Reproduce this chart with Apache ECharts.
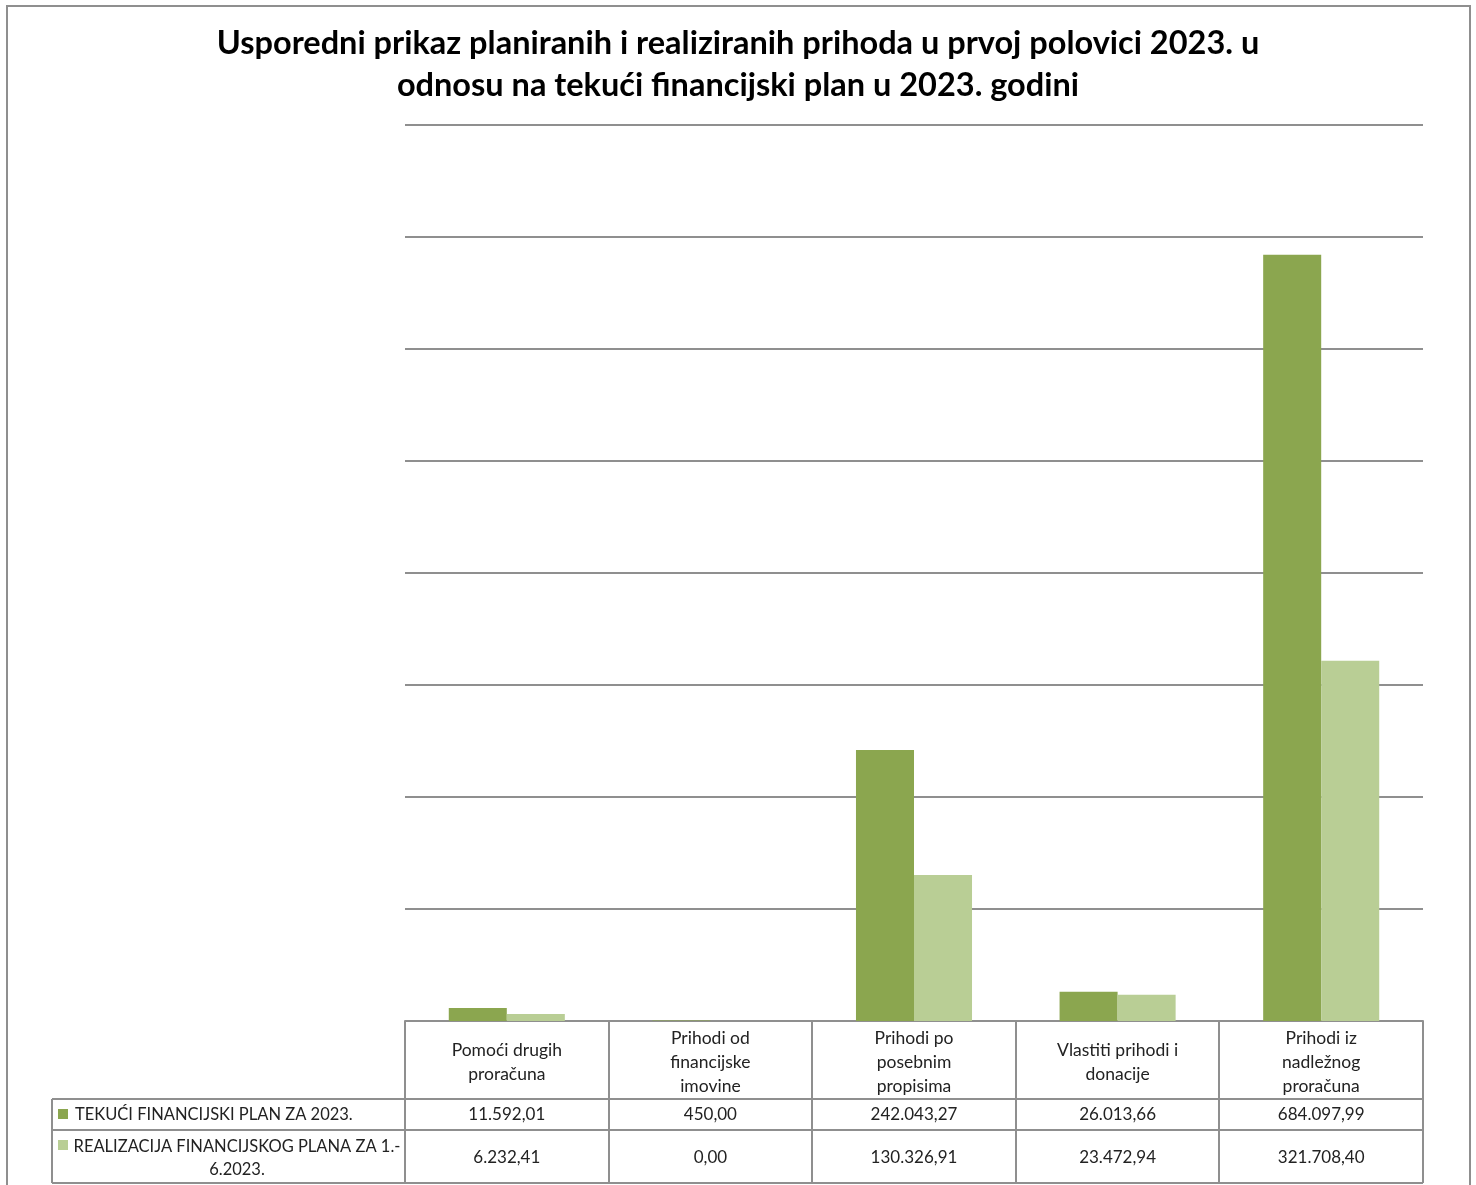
<!DOCTYPE html>
<html>
<head>
<meta charset="utf-8">
<script src="https://cdn.jsdelivr.net/npm/echarts@6/dist/echarts.min.js"></script>
<style>
  html, body { margin: 0; padding: 0; background: #fff; }
  #chart { width: 1476px; height: 1185px; }
</style>
</head>
<body>
<div id="chart"></div>
<script>
// podaci
const categories = [
  "Pomoći drugih proračuna",
  "Prihodi od financijske imovine",
  "Prihodi po posebnim propisima",
  "Vlastiti prihodi i donacije",
  "Prihodi iz nadležnog proračuna"
];
const categoryLabels = [
  "Pomoći drugih\nproračuna",
  "Prihodi od\nfinancijske\nimovine",
  "Prihodi po\nposebnim\npropisima",
  "Vlastiti prihodi i\ndonacije",
  "Prihodi iz\nnadležnog\nproračuna"
];
const seriesNames = [
  "TEKUĆI FINANCIJSKI PLAN ZA 2023.",
  "REALIZACIJA FINANCIJSKOG PLANA ZA 1.-\n6.2023."
];
const planValues = [11592.01, 450.0, 242043.27, 26013.66, 684097.99];
const realValues = [6232.41, 0.0, 130326.91, 23472.94, 321708.4];

const colors = ["#8ba64f", "#b9ce95"];
const lineColor = "#8f8f8f";
const font = "Lato, 'Open Sans', sans-serif";

// hrvatski format broja: 11.592,01
function fmt(v) {
  const parts = v.toFixed(2).split(".");
  const int = parts[0].replace(/\B(?=(\d{3})+(?!\d))/g, ".");
  return int + "," + parts[1];
}

const gridLeft = 405, gridRight = 1423, gridTop = 125, axisY = 1021;
const row1Y = 1099, row2Y = 1130, tableBottom = 1183, labelLeft = 52;

const chart = echarts.init(document.getElementById("chart"));

function buildTable() {
  const els = [];
  const cw = (gridRight - gridLeft) / categories.length;
  const line = (x1, y1, x2, y2) => ({
    type: "line",
    shape: { x1, y1, x2, y2 },
    style: { stroke: lineColor, lineWidth: 2 },
    silent: true
  });
  // okvir
  els.push({
    type: "polyline",
    shape: { points: [[7, 1190], [7, 6], [1470, 6], [1470, 1190]] },
    style: { stroke: lineColor, lineWidth: 2, fill: null },
    silent: true
  });
  // horizontalne linije tablice
  els.push(line(labelLeft, row1Y, gridRight, row1Y));
  els.push(line(labelLeft, row2Y, gridRight, row2Y));
  els.push(line(labelLeft, tableBottom, gridRight, tableBottom));
  // vertikalne linije
  els.push(line(labelLeft, row1Y, labelLeft, tableBottom));
  for (let i = 0; i <= categories.length; i++) {
    const x = Math.round(gridLeft + i * cw);
    els.push(line(x, axisY, x, tableBottom));
  }
  // legend oznake + nazivi serija
  els.push({ type: "rect", shape: { x: 58, y: 1109, width: 10, height: 10 }, style: { fill: colors[0] } });
  els.push({
    type: "text",
    style: { text: seriesNames[0], x: 75, y: 1115, font: "16.5px " + font, fill: "#222", align: "left", verticalAlign: "middle" }
  });
  els.push({ type: "rect", shape: { x: 58, y: 1140, width: 10, height: 10 }, style: { fill: colors[1] } });
  els.push({
    type: "text",
    style: { text: seriesNames[1], x: 237, y: 1158, font: "16.5px " + font, fill: "#222", align: "center", verticalAlign: "middle", lineHeight: 23 }
  });
  // vrijednosti
  const rows = [[planValues, 1115], [realValues, 1158]];
  rows.forEach(([vals, y]) => {
    vals.forEach((v, i) => {
      els.push({
        type: "text",
        style: { text: fmt(v), x: gridLeft + (i + 0.5) * cw, y, font: "17px " + font, fill: "#222", align: "center", verticalAlign: "middle" }
      });
    });
  });
  return els;
}

chart.setOption({
  animation: false,
  title: {
    text: "Usporedni prikaz planiranih i realiziranih prihoda u prvoj polovici 2023. u\nodnosu na tekući financijski plan u 2023. godini",
    left: "center",
    top: 18,
    textStyle: { fontFamily: font, fontSize: 32.5, fontWeight: "bold", color: "#000", lineHeight: 42, align: "center" }
  },
  grid: {
    left: gridLeft,
    right: 1476 - gridRight,
    top: gridTop,
    bottom: 1185 - axisY,
    containLabel: false
  },
  xAxis: {
    type: "category",
    data: categories,
    axisLine: { show: true, lineStyle: { color: lineColor, width: 2 } },
    axisTick: { show: false },
    axisLabel: {
      interval: 0,
      margin: 41,
      verticalAlign: "middle",
      lineHeight: 24,
      fontFamily: font,
      fontSize: 17.5,
      color: "#222",
      formatter: (v, i) => categoryLabels[i]
    }
  },
  yAxis: {
    type: "value",
    min: 0,
    max: 800000,
    interval: 100000,
    axisLabel: { show: false },
    axisLine: { show: false },
    axisTick: { show: false },
    splitLine: { lineStyle: { color: lineColor, width: 2 } }
  },
  series: [
    {
      name: seriesNames[0],
      type: "bar",
      data: planValues,
      itemStyle: { color: colors[0] },
      barGap: "0%",
      barCategoryGap: "43%"
    },
    {
      name: seriesNames[1],
      type: "bar",
      data: realValues,
      itemStyle: { color: colors[1] },
      barGap: "0%",
      barCategoryGap: "43%"
    }
  ],
  graphic: buildTable()
});

window.addEventListener("resize", () => chart.resize());
</script>
</body>
</html>
